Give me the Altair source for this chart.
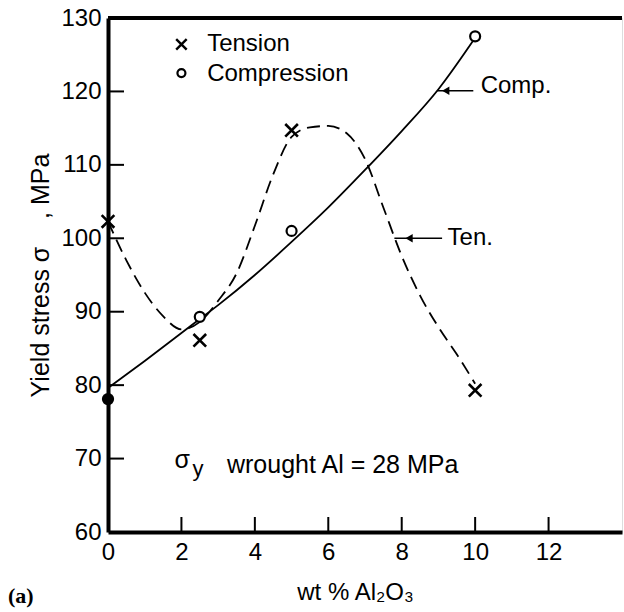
import altair as alt
import pandas as pd

# ---- data ----
x_ticks = [0, 2, 4, 6, 8, 10, 12]
y_ticks = [60, 70, 80, 90, 100, 110, 120, 130]

tension_x = [0, 2.5, 5, 10]
tension_y = [102.3, 86.1, 114.7, 79.3]

comp_x = [2.5, 5, 10]
comp_y = [89.3, 101.0, 127.5]
comp0_x = [0]
comp0_y = [78.1]

comp_curve_x = [0, 1, 2, 2.5, 3, 4, 5, 6, 7, 8, 9, 10]
comp_curve_y = [79.6, 83.3, 87.1, 89.0, 90.9, 95.0, 99.5, 104.2, 109.3, 114.6, 120.3, 127.3]

ten_curve_x = [0, 0.5, 1, 1.5, 2, 2.5, 3, 3.5, 4, 4.5, 5, 5.5, 6, 6.5, 7, 7.5, 8, 8.5, 9, 9.5, 10]
ten_curve_y = [102.3, 97.0, 92.6, 89.4, 87.6, 88.6, 91.5, 95.2, 101.7, 108.7, 113.8, 115.1, 115.3,
               114.3, 110.8, 104.2, 97.6, 92.2, 87.9, 84.2, 80.2]

# annotation texts (data coordinates)
labels_text = ["Tension", "Compression", "Comp.", "Ten."]
labels_x = [2.7, 2.7, 10.15, 9.25]
labels_y = [126.5, 122.4, 120.8, 100.1]

legend_cross_x = [2.0]
legend_cross_y = [126.4]
legend_circle_x = [2.0]
legend_circle_y = [122.5]

arrow_x = [8.97, 7.8]
arrow_x2 = [9.95, 9.1]
arrow_y = [120.1, 100.0]
arrowhead_x = [9.2, 8.2]

NB = "\u00a0"
FONT = "Liberation Sans"
TICKFONT = "Liberation Sans"
W, H = 514, 514

xs = alt.Scale(domain=[0, 14], nice=False, zero=False)
ys = alt.Scale(domain=[60, 130], nice=False, zero=False)

x_axis = alt.Axis(values=x_ticks, ticks=False, tickSize=0, grid=False, domainWidth=4,
                  domainColor="black", labelFont=TICKFONT, labelFontSize=24, labelColor="black",
                  labelPadding=8, labelFlush=False, labelOverlap=False,
                  title="wt % Al₂O₃", titleFont=FONT, titleFontSize=24, titleFontWeight="normal",
                  titleColor="black", titleX=247, titleY=60, titleAlign="center",
                  titleBaseline="middle")
y_axis = alt.Axis(values=y_ticks, ticks=False, tickSize=0, grid=False, domainWidth=4,
                  domainColor="black", labelFont=TICKFONT, labelFontSize=24, labelColor="black",
                  labelPadding=7, labelFlush=False, labelOverlap=False,
                  title="Yield stress σ" + NB * 4 + ", MPa", titleFont=FONT, titleFontSize=25,
                  titleFontWeight="normal", titleColor="black", titleAngle=270,
                  titleX=-68, titleY=257, titleAlign="center", titleBaseline="middle")


def X(field="x"):
    return alt.X(f"{field}:Q", scale=xs, axis=x_axis)


def Y(field="y"):
    return alt.Y(f"{field}:Q", scale=ys, axis=y_axis)


comp_curve = alt.Chart(pd.DataFrame({"x": comp_curve_x, "y": comp_curve_y})).mark_line(
    color="black", strokeWidth=1.8, interpolate="monotone").encode(x=X(), y=Y())

ten_curve = alt.Chart(pd.DataFrame({"x": ten_curve_x, "y": ten_curve_y})).mark_line(
    color="black", strokeWidth=1.8, strokeDash=[13, 7], interpolate="monotone").encode(x=X(), y=Y())

CROSS = "M-1,-1L1,1M-1,1L1,-1"

tension_pts = alt.Chart(pd.DataFrame({"x": tension_x, "y": tension_y})).mark_point(
    shape=CROSS, size=160, strokeWidth=2.6, color="black", filled=False, opacity=1).encode(x=X(), y=Y())

comp_pts = alt.Chart(pd.DataFrame({"x": comp_x, "y": comp_y})).mark_point(
    shape="circle", size=100, strokeWidth=2.2, color="black", fill="white", filled=False,
    opacity=1, fillOpacity=1).encode(x=X(), y=Y())

comp0 = alt.Chart(pd.DataFrame({"x": comp0_x, "y": comp0_y})).mark_point(
    shape="circle", size=150, color="black", filled=True, opacity=1).encode(x=X(), y=Y())

leg_cross = alt.Chart(pd.DataFrame({"x": legend_cross_x, "y": legend_cross_y})).mark_point(
    shape=CROSS, size=110, strokeWidth=2.4, color="black", filled=False, opacity=1).encode(x=X(), y=Y())

leg_circle = alt.Chart(pd.DataFrame({"x": legend_circle_x, "y": legend_circle_y})).mark_point(
    shape="circle", size=64, strokeWidth=2.2, color="black", filled=False, opacity=1).encode(x=X(), y=Y())

labels = alt.Chart(pd.DataFrame({"x": labels_x, "y": labels_y, "t": labels_text})).mark_text(
    font=FONT, fontSize=24, color="black", align="left", baseline="middle").encode(
    x=X(), y=Y(), text="t:N")

arrows = alt.Chart(pd.DataFrame({"x": arrow_x, "x2": arrow_x2, "y": arrow_y})).mark_rule(
    color="black", strokeWidth=1.6).encode(x=X(), x2="x2:Q", y=Y())

heads = alt.Chart(pd.DataFrame({"x": arrowhead_x, "y": arrow_y})).mark_point(
    shape="triangle-left", size=70, color="black", filled=True, opacity=1).encode(x=X(), y=Y())

sigma = alt.Chart(pd.DataFrame({"x": [1.81], "y": [68.7], "t": ["σ"]})).mark_text(
    font=FONT, fontSize=25, color="black", align="left", baseline="alphabetic").encode(
    x=X(), y=Y(), text="t:N")
sub_y = alt.Chart(pd.DataFrame({"x": [2.3], "y": [67.6], "t": ["y"]})).mark_text(
    font=FONT, fontSize=22, color="black", align="left", baseline="alphabetic").encode(
    x=X(), y=Y(), text="t:N")
wrought = alt.Chart(pd.DataFrame({"x": [3.24], "y": [68.0], "t": ["wrought Al = 28 MPa"]})).mark_text(
    font=FONT, fontSize=25, color="black", align="left", baseline="alphabetic").encode(
    x=X(), y=Y(), text="t:N")

ytick_rules = alt.Chart(pd.DataFrame({"y": y_ticks[1:-1]})).mark_rule(
    color="black", strokeWidth=2).encode(x=alt.value(0), x2=alt.value(16), y=Y())
xtick_rules = alt.Chart(pd.DataFrame({"x": x_ticks[1:]})).mark_rule(
    color="black", strokeWidth=2).encode(x=X(), y=alt.value(H), y2=alt.value(H - 15))

top_rule = alt.Chart(pd.DataFrame({"a": [0]})).mark_rule(color="black", strokeWidth=4).encode(
    x=alt.value(0), x2=alt.value(W), y=alt.value(0))

panel = alt.Chart(pd.DataFrame({"t": ["(a)"]})).mark_text(
    font="Liberation Serif", fontSize=22, fontWeight="bold", color="black", align="left",
    baseline="middle").encode(x=alt.value(-100), y=alt.value(578), text="t:N")

chart = alt.layer(
    comp_curve, ten_curve, ytick_rules, xtick_rules, top_rule, arrows, heads,
    tension_pts, comp_pts, comp0, leg_cross, leg_circle, labels, sigma, sub_y, wrought, panel
).properties(
    width=W, height=H, autosize="none",
    padding={"left": 108, "top": 18, "right": 2, "bottom": 80}
).configure_view(stroke="black", strokeWidth=2).configure(background="white")

chart.save("out.html", embed_options={"renderer": "svg", "actions": False})
